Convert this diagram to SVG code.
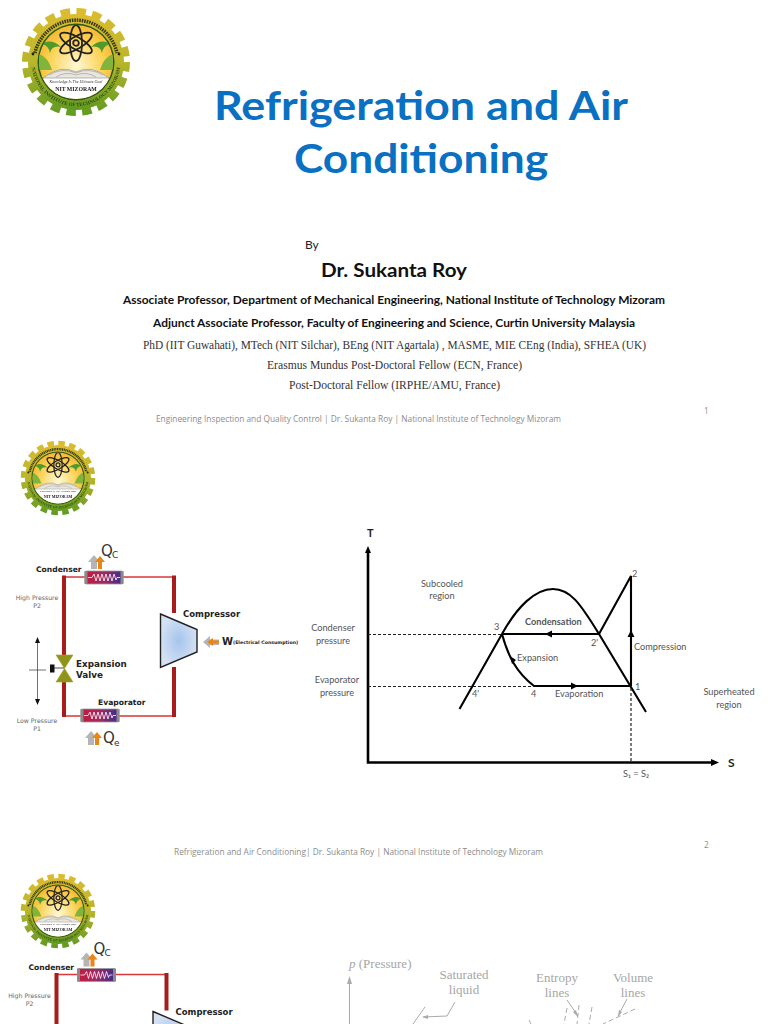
<svg xmlns="http://www.w3.org/2000/svg" xmlns:xlink="http://www.w3.org/1999/xlink" width="768" height="1024" viewBox="0 0 768 1024">
<style>
.l{font-family:Lato,"Open Sans",sans-serif}
.ser{font-family:"Liberation Serif",serif;fill:#333;font-size:12px}
.foot{font-family:"Open Sans",sans-serif;font-size:8.2px;fill:#8c8c8c}
.d{font-family:"DejaVu Sans",sans-serif}
.db{font-family:"DejaVu Sans",sans-serif;font-weight:700;fill:#222}
.g{font-family:Lato,"Open Sans",sans-serif;font-size:9.2px;fill:#555}
.m{text-anchor:middle}
.sm{font-size:6.2px;fill:#666}
.ax{fill:none;stroke:#000;stroke-width:2.6}
.cy{fill:none;stroke:#000;stroke-width:2.1}
.da{fill:none;stroke:#222;stroke-width:1.2;stroke-dasharray:3 2}
.pale{font-family:"Liberation Serif",serif;font-size:13px;fill:#a6a6a6}
.paleL{fill:none;stroke:#aaa;stroke-width:1}
</style>
<defs>
<filter id="soft" x="-5%" y="-5%" width="110%" height="110%"><feGaussianBlur stdDeviation="0.35"/></filter>
<linearGradient id="gearG" x1="0" y1="0" x2="0" y2="1"><stop offset="0" stop-color="#dcbc2e"/><stop offset="0.5" stop-color="#b9b62c"/><stop offset="1" stop-color="#5f9a22"/></linearGradient>
<linearGradient id="gearS" gradientUnits="userSpaceOnUse" x1="0" y1="-54" x2="0" y2="54"><stop offset="0" stop-color="#dcbc2e"/><stop offset="0.5" stop-color="#b9b62c"/><stop offset="1" stop-color="#5f9a22"/></linearGradient>
<radialGradient id="sky" cx="0.5" cy="0.55" r="0.6"><stop offset="0" stop-color="#fff8d6"/><stop offset="0.6" stop-color="#fcd253"/><stop offset="1" stop-color="#f4ad26"/></radialGradient>
<linearGradient id="hx" x1="0" y1="0" x2="1" y2="0"><stop offset="0" stop-color="#c8183c"/><stop offset="0.5" stop-color="#a02a60"/><stop offset="1" stop-color="#3a2c90"/></linearGradient>
<radialGradient id="comp"><stop offset="0" stop-color="#a6c4ec"/><stop offset="1" stop-color="#d3e1f3"/></radialGradient>
<clipPath id="inner"><circle r="37"/></clipPath>
<path id="botArc" d="M-44,-7 A44.500,44.500 0 1 0 44,-7"/>

<g id="logo" filter="url(#soft)">
<circle r="50.500" fill="none" stroke="url(#gearS)" stroke-width="7" stroke-dasharray="9.500 6.370"/>
<circle r="48" fill="url(#gearG)"/>
<circle r="38.500" fill="#2c5a16"/>
<g clip-path="url(#inner)">
<rect x="-38" y="-38" width="76" height="76" fill="url(#sky)"/>
<path d="M-34,-18 Q-25,-24 -15,-15 Q-24,-17 -26,-9 Q-27,-16 -34,-18ZM34,-18 Q25,-24 15,-15 Q24,-17 26,-9 Q27,-16 34,-18Z" fill="#4f9a2a"/>
<path d="M-37,-8 Q-28,-5 -24,8 L-37,8ZM37,-8 Q28,-5 24,8 L37,8Z" fill="#7fb53a"/>
<rect x="-38" y="16" width="76" height="22" fill="#fff"/>
<path d="M-33,16 Q-15,2 0,10 Q15,2 33,16Z" fill="#e9e6dc" stroke="#8a8a8a" stroke-width="0.6"/>
<path d="M-27,13 Q-13,5 0,11 M27,13 Q13,5 0,11 M-20,15 Q-10,9 0,13 M20,15 Q10,9 0,13" fill="none" stroke="#999" stroke-width="0.6"/>
<g fill="none" stroke="#222" stroke-width="1.8">
<ellipse cy="-19" rx="6" ry="18"/>
<ellipse cy="-19" rx="6" ry="18" transform="rotate(60 0 -19)"/>
<ellipse cy="-19" rx="6" ry="18" transform="rotate(-60 0 -19)"/>
<circle cy="-19" r="2.800"/>
</g>
<text class="m" y="21" font-family="Liberation Serif,serif" font-style="italic" font-size="4" fill="#333">Knowledge Is The Ultimate Goal</text>
<text class="m" y="29" font-family="Liberation Serif,serif" font-weight="700" font-size="5.800" fill="#222">NIT MIZORAM</text>
</g>
<path d="M-41,-9 A42,42 0 0 1 41,-9" fill="none" stroke="#3a3a18" stroke-width="3.500" stroke-dasharray="1.600 0.900"/>
<text font-family="Liberation Serif,serif" font-size="5" font-weight="700" fill="#2f4a10"><textPath xlink:href="#botArc" href="#botArc" startOffset="50%" text-anchor="middle">NATIONAL INSTITUTE OF TECHNOLOGY MIZORAM</textPath></text>
<circle cx="-43" cy="-8" r="1.400" fill="#222"/><circle cx="43" cy="-8" r="1.400" fill="#222"/>
</g>

<g id="hxUnit">
<rect x="0" y="0" width="38" height="13" rx="1.500" fill="url(#hx)" stroke="#999" stroke-width="0.8"/>
<rect x="-0.500" y="0" width="3" height="13" fill="#8a8a8a"/><rect x="35.500" y="0" width="3" height="13" fill="#8a8a8a"/>
<polyline points="3,6.500 7,6.500 9,3 11,10 13,3 15,10 17,3 19,10 21,3 23,10 25,3 27,10 29,3 31,9 32,6.500 35,6.500" fill="none" stroke="#fff" stroke-width="0.8"/>
</g>
<g id="upArrow">
<path d="M-7,7 L-7,0 L-10,0 L-4,-7 L2,0 L-1,0 L-1,7Z" fill="#b5b5b5"/>
<path d="M-2,7 L-2,0 L-5,0 L0,-6 L5,0 L2,0 L2,7Z" fill="#e8861a" transform="translate(2,0)"/>
</g>

<g id="cycle">
<g id="cyclePipes">
<path d="M64,577 H86 M122,577 H174 M64,716 H81 M118,716 H174" fill="none" stroke="#d8383c" stroke-width="1.600"/>
<path d="M64,575.500 V656 M64,682 V717 M174,575.500 V613 M174,667 V717" fill="none" stroke="#a81c1c" stroke-width="4"/>
</g>
<use href="#hxUnit" xlink:href="#hxUnit" x="85" y="571"/>
<use href="#hxUnit" xlink:href="#hxUnit" x="81" y="709"/>
<polygon points="160.500,614 197,629.500 197,652 160.500,667.500" fill="url(#comp)" stroke="#222" stroke-width="1.400"/>
<path d="M56,655 H73 L56,682 H73Z" fill="#8f9419" stroke="#a3a62a" stroke-width="0.6"/>
<path d="M54,668 H64" stroke="#222" stroke-width="0.8"/>
<rect x="50" y="664.500" width="4.500" height="8" fill="#111"/>
<path d="M29,670 H46 M37.500,641 V701" stroke="#333" stroke-width="0.7" fill="none"/>
<path d="M37.500,637 L35,643 H40ZM37.500,705 L35,699 H40Z" fill="#111"/>
<use href="#upArrow" xlink:href="#upArrow" x="98" y="562"/>
<use href="#upArrow" xlink:href="#upArrow" x="95" y="738"/>
<path d="M203,642 L210,636 V639.500 H219 V645 H210 V648Z" fill="#b5b5b5"/>
<path d="M207,642 L213,638 V640.500 H219 V643.500 H213 V646Z" fill="#e8861a"/>
<text class="d" x="101" y="556" font-size="15" fill="#333">Q</text><text class="d" x="112" y="558" font-size="9" fill="#333">C</text>
<text class="d" x="103" y="743" font-size="15" fill="#333">Q</text><text class="d" x="114" y="746" font-size="9" fill="#333">e</text>
<text class="db" x="36" y="572" font-size="7.600">Condenser</text>
<text class="db" x="183" y="617" font-size="8.500">Compressor</text>
<text class="db" x="222" y="645" font-size="10">W</text>
<text class="db" x="233" y="644" font-size="4.700">(Electrical Consumption)</text>
<text class="db" x="76" y="667" font-size="8.800">Expansion</text>
<text class="db" x="76" y="678" font-size="8.800">Valve</text>
<text class="db" x="98" y="705" font-size="7.600">Evaporator</text>
<text class="d m sm" x="37" y="600">High Pressure</text>
<text class="d m sm" x="37" y="608">P2</text>
<text class="d m sm" x="37" y="723">Low Pressure</text>
<text class="d m sm" x="37" y="730.500">P1</text>
</g>
</defs>

<rect width="768" height="1024" fill="#fff"/>

<g id="slide1">
<use id="logo1" href="#logo" xlink:href="#logo" transform="translate(76,62)"/>
<text class="l" x="214" y="120" font-size="40" font-weight="700" fill="#0a70c2" textLength="414" lengthAdjust="spacingAndGlyphs">Refrigeration and Air</text>
<text class="l" x="294" y="173" font-size="40" font-weight="700" fill="#0a70c2" textLength="254" lengthAdjust="spacingAndGlyphs">Conditioning</text>
<text class="l" x="305" y="249" font-size="12" fill="#222">By</text>
<text class="l" x="321" y="277" font-size="19" font-weight="700" fill="#111" textLength="146" lengthAdjust="spacingAndGlyphs">Dr. Sukanta Roy</text>
<text class="l" x="123" y="304" font-size="11.500" font-weight="700" fill="#111" textLength="542" lengthAdjust="spacingAndGlyphs">Associate Professor, Department of Mechanical Engineering, National Institute of Technology Mizoram</text>
<text class="l" x="153" y="327" font-size="11.500" font-weight="700" fill="#111" textLength="482" lengthAdjust="spacingAndGlyphs">Adjunct Associate Professor, Faculty of Engineering and Science, Curtin University Malaysia</text>
<text class="ser" x="143" y="349" textLength="503" lengthAdjust="spacingAndGlyphs">PhD (IIT Guwahati), MTech (NIT Silchar), BEng (NIT Agartala) , MASME, MIE CEng (India), SFHEA (UK)</text>
<text class="ser" x="267" y="369" textLength="255" lengthAdjust="spacingAndGlyphs">Erasmus Mundus Post-Doctoral Fellow (ECN, France)</text>
<text class="ser" x="289" y="389" textLength="211" lengthAdjust="spacingAndGlyphs">Post-Doctoral Fellow (IRPHE/AMU, France)</text>
<text class="foot" x="156" y="422" textLength="405" lengthAdjust="spacingAndGlyphs">Engineering Inspection and Quality Control | Dr. Sukanta Roy | National Institute of Technology Mizoram</text>
<text class="foot" x="704" y="414">1</text>
</g>

<g id="slide2">
<use id="logo2" href="#logo" xlink:href="#logo" transform="translate(58,478) scale(0.69)"/>
<use id="cycle2" href="#cycle" xlink:href="#cycle"/>
<g id="connectors">
<path class="ax" d="M368,552 V762.500 H712"/>
<path d="M368,546 L365,553 H371ZM719,762.500 L711,759 V766Z" fill="#000"/>
<path class="cy" d="M459.500,709 L502,634 C517,607 535,589 553,589 C570,589 580,603 599,634 L646,712"/>
<path class="cy" d="M599,634 L631,576 V686 M502,634 H599 M502,634 C508,656 516,672 534,686 H631"/>
<path class="da" d="M368,634.500 H501 M368,686.500 H534 M631,688 V762"/>
<path d="M552,630.500 L552,637.500 L545,634ZM571,682.500 V689.500 L578,686ZM631,630 L627.500,637 H634.500ZM510,656 L516,660 L512,664Z" fill="#000"/>
</g>
<g id="labels2">
<text class="l" x="367" y="537" font-size="11" font-weight="700" fill="#222">T</text>
<text class="l" x="728" y="767" font-size="12" font-weight="700" fill="#222">S</text>
<text class="g m" x="442" y="587">Subcooled</text><text class="g m" x="442" y="599">region</text>
<text class="g m" x="333" y="631">Condenser</text><text class="g m" x="333" y="644">pressure</text>
<text class="g m" x="337" y="683">Evaporator</text><text class="g m" x="337" y="696">pressure</text>
<text class="g m" x="729" y="695">Superheated</text><text class="g m" x="729" y="708">region</text>
<text class="g" x="634" y="650">Compression</text>
<text class="g" x="517" y="661">Expansion</text>
<text class="g" x="525" y="625" font-weight="700" font-size="8.500" fill="#222">Condensation</text>
<text class="g" x="555" y="697">Evaporation</text>
<text class="g" x="632" y="577">2</text><text class="g" x="591" y="646">2'</text><text class="g" x="494" y="630">3</text>
<text class="g" x="635" y="690">1</text><text class="g" x="531" y="697">4</text><text class="g" x="472" y="697">4'</text>
<text class="g m" x="636" y="777">S₁ = S₂</text>
</g>
<text class="foot" x="174" y="855" textLength="369" lengthAdjust="spacingAndGlyphs">Refrigeration and Air Conditioning| Dr. Sukanta Roy | National Institute of Technology Mizoram</text>
<text class="foot" x="704" y="848">2</text>
</g>

<g id="slide3">
<use id="logo3" href="#logo" xlink:href="#logo" transform="translate(58,911) scale(0.69)"/>
<use id="cycle3" href="#cycle" xlink:href="#cycle" transform="translate(-7.500,397.500)"/>
<text class="pale" x="349" y="968"><tspan font-style="italic">p</tspan> (Pressure)</text>
<text class="pale m" x="464" y="979">Saturated</text><text class="pale m" x="464" y="994">liquid</text>
<text class="pale m" x="557" y="982">Entropy</text><text class="pale m" x="557" y="997">lines</text>
<text class="pale m" x="633" y="982">Volume</text><text class="pale m" x="633" y="997">lines</text>
<path class="paleL" d="M349.500,982 V1024 M455,1002 L447,1016 L423,1017 M425,1007 L413,1024 M567,1000 L578,1016 M627,999 L618,1016"/>
<path d="M349.500,976 L347,984 H352ZM422,1017 L428,1015 V1019Z M578,1017 L573,1012 L576,1010ZM618,1017 L619,1010 L622,1012Z" fill="#aaa"/>
<path class="paleL" stroke-dasharray="5 3" d="M567,1008 L564,1024 M579,1005 L577,1024 M592,1007 L589,1024 M529,1020 L531,1024 M635,1009 L603,1024"/>
</g>
</svg>
